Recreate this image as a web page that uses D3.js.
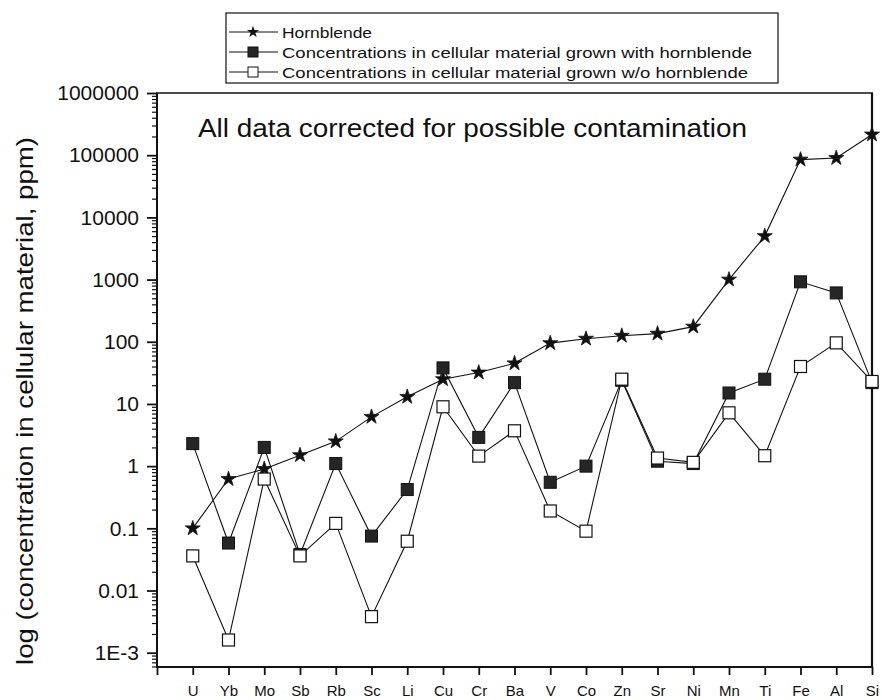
<!DOCTYPE html>
<html><head><meta charset="utf-8">
<script src="https://cdn.jsdelivr.net/npm/d3@7"></script>
<style>
body{margin:0;background:#fff}
svg{display:block}
text{font-family:"Liberation Sans",Arial,Helvetica,sans-serif;fill:#111}
</style>
</head><body>
<svg id="c" width="882" height="700"></svg>
<script>
const categories = ["U","Yb","Mo","Sb","Rb","Sc","Li","Cu","Cr","Ba","V","Co","Zn","Sr","Ni","Mn","Ti","Fe","Al","Si"];
const hornblende = [0.1, 0.62, 0.9, 1.5, 2.5, 6.2, 13, 25, 32, 45, 95, 112, 125, 135, 175, 1000, 5000, 85000, 90000, 215000];
const withHornblende = [2.3, 0.058, 2.0, 0.038, 1.1, 0.075, 0.42, 38, 2.9, 22, 0.55, 1.0, 24, 1.2, 1.1, 15, 25, 920, 610, 22];
const withoutHornblende = [0.036, 0.0016, 0.62, 0.036, 0.12, 0.0038, 0.062, 9, 1.45, 3.7, 0.19, 0.09, 25, 1.35, 1.15, 7.2, 1.47, 40, 96, 23];
const yTickValues = [1e-3, 0.01, 0.1, 1, 10, 100, 1000, 10000, 100000, 1000000];
const yTickLabels = ["1E-3","0.01","0.1","1","10","100","1000","10000","100000","1000000"];
const seriesNames = ["Hornblende","Concentrations in cellular material grown with hornblende","Concentrations in cellular material grown w/o hornblende"];
const yTitle = "log (concentration in cellular material, ppm)";
const annotation = "All data corrected for possible contamination";

const svg = d3.select("#c");
const L = 157, R = 872, T = 93, B = 667;
const x = d3.scaleLinear().domain([-1, categories.length - 1]).range([L, R]);
const y = d3.scaleLog().domain([Math.pow(10, -3.23), 1e6]).range([B, T]);

// minor y ticks
const minor = [];
for (let e = -4; e < 6; e++) for (let m = 2; m <= 9; m++) {
  const v = m * Math.pow(10, e);
  if (v >= y.domain()[0] && v <= 1e6) minor.push(v);
}
const gMinor = svg.append("g").attr("transform", `translate(${L},0)`)
  .call(d3.axisLeft(y).tickValues(minor).tickSize(5).tickFormat(""));
gMinor.select(".domain").remove();
gMinor.selectAll("line").attr("stroke", "#111").attr("stroke-width", 1.2);

// major y ticks
const gy = svg.append("g").attr("transform", `translate(${L},0)`)
  .call(d3.axisLeft(y).tickValues(yTickValues).tickSize(10).tickPadding(8)
    .tickFormat((d, i) => yTickLabels[i]));
gy.select(".domain").remove();
gy.selectAll("line").attr("stroke", "#111").attr("stroke-width", 1.8);
gy.selectAll("text").attr("font-size", 21).attr("fill", "#111")
  .attr("font-family", '"Liberation Sans",Arial,sans-serif');

// x axis
const gx = svg.append("g").attr("transform", `translate(0,${B})`)
  .call(d3.axisBottom(x).tickValues(d3.range(-1, categories.length)).tickSize(8)
    .tickFormat(i => i >= 0 ? categories[i] : ""));
gx.select(".domain").remove();
gx.selectAll("line").attr("stroke", "#111").attr("stroke-width", 1.8);
gx.selectAll("text").attr("font-size", 15).attr("fill", "#111").attr("y", 29).attr("dy", 0)
  .attr("font-family", '"Liberation Sans",Arial,sans-serif');

// frame
const frame = svg.append("g").attr("fill", "none").attr("stroke", "#111");
frame.append("line").attr("x1", L).attr("x2", L).attr("y1", T).attr("y2", B + 1).attr("stroke-width", 2);
frame.append("line").attr("x1", L - 1).attr("x2", R + 1).attr("y1", B).attr("y2", B).attr("stroke-width", 2);
frame.append("line").attr("x1", L - 1).attr("x2", R + 1).attr("y1", T).attr("y2", T).attr("stroke-width", 1.6);
frame.append("line").attr("x1", R).attr("x2", R).attr("y1", T).attr("y2", B).attr("stroke-width", 2.2);

// y title
svg.append("text").attr("transform", "translate(33,401) rotate(-90)")
  .attr("text-anchor", "middle").attr("font-size", 24)
  .attr("textLength", 528).attr("lengthAdjust", "spacingAndGlyphs").text(yTitle);

// annotation
svg.append("text").attr("x", 198).attr("y", 137).attr("font-size", 25)
  .attr("textLength", 549).attr("lengthAdjust", "spacingAndGlyphs").text(annotation);

// series
const line = d3.line().x((d, i) => x(i)).y(d => y(d));
const star = d3.symbol().type(d3.symbolStar).size(70);
const sq = 12;

function drawLine(data) {
  svg.append("path").datum(data).attr("d", line).attr("fill", "none")
    .attr("stroke", "#111").attr("stroke-width", 1.1);
}
drawLine(hornblende);
drawLine(withHornblende);
drawLine(withoutHornblende);

svg.append("g").selectAll("path").data(hornblende).join("path")
  .attr("d", star).attr("transform", (d, i) => `translate(${x(i)},${y(d)})`)
  .attr("fill", "#111").attr("stroke", "#111").attr("stroke-width", 0.8);

svg.append("g").selectAll("rect").data(withHornblende).join("rect")
  .attr("x", (d, i) => x(i) - sq / 2).attr("y", d => y(d) - sq / 2)
  .attr("width", sq).attr("height", sq)
  .attr("fill", "#262626").attr("stroke", "#111").attr("stroke-width", 1);

svg.append("g").selectAll("rect").data(withoutHornblende).join("rect")
  .attr("x", (d, i) => x(i) - sq / 2).attr("y", d => y(d) - sq / 2)
  .attr("width", sq).attr("height", sq)
  .attr("fill", "#fff").attr("stroke", "#111").attr("stroke-width", 1.2);

// legend
const lg = svg.append("g");
lg.append("rect").attr("x", 226).attr("y", 13).attr("width", 552).attr("height", 70)
  .attr("fill", "#fff").attr("stroke", "#111").attr("stroke-width", 1.2);
const rowY = [32, 52, 72];
const widths = [90, 470, 466];
seriesNames.forEach((name, k) => {
  const yy = rowY[k];
  lg.append("line").attr("x1", 229).attr("x2", 278).attr("y1", yy).attr("y2", yy)
    .attr("stroke", "#111").attr("stroke-width", 1);
  if (k === 0) {
    lg.append("path").attr("d", d3.symbol().type(d3.symbolStar).size(45)())
      .attr("transform", `translate(253,${yy})`).attr("fill", "#111");
  } else {
    lg.append("rect").attr("x", 248).attr("y", yy - 5).attr("width", 10).attr("height", 10)
      .attr("fill", k === 1 ? "#262626" : "#fff").attr("stroke", "#111").attr("stroke-width", 1);
  }
  lg.append("text").attr("x", 282).attr("y", yy + 5.5).attr("font-size", 15)
    .attr("textLength", widths[k]).attr("lengthAdjust", "spacingAndGlyphs").text(name);
});
</script>
</body></html>
